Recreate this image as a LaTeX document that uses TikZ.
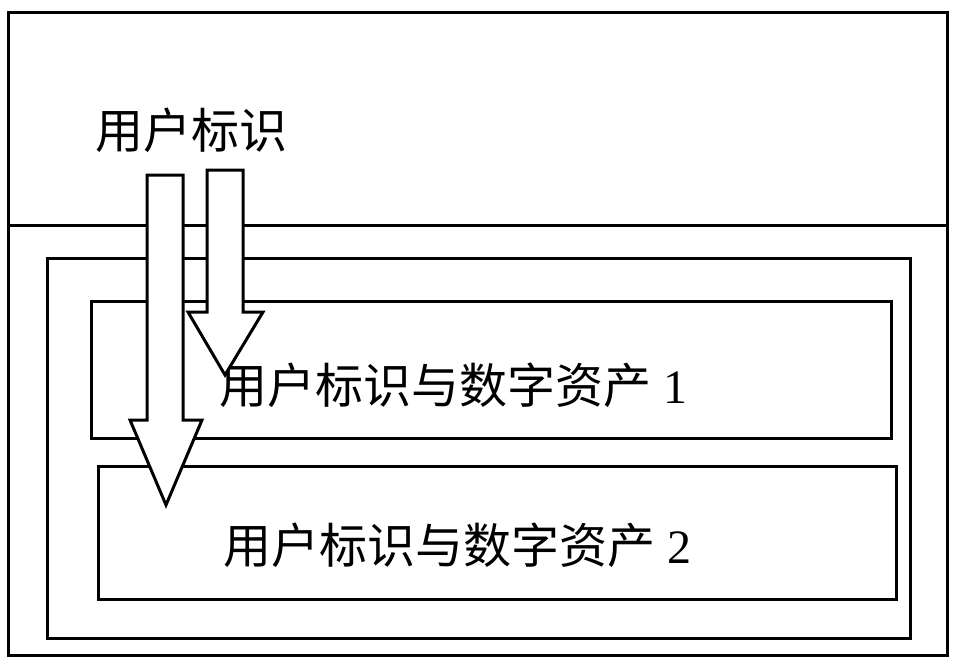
\documentclass[tikz,border=0pt]{standalone}
\usepackage{fontspec}
\setmainfont{Liberation Serif}
\newfontfamily\cjk{Noto Sans CJK SC}
\begin{document}
\begin{tikzpicture}[x=1pt,y=-1pt,line width=3pt,
  lbl/.style={inner sep=0,anchor=west,font=\fontsize{48}{52}\selectfont},
  arr/.style={draw,fill=white,line width=3pt,line join=miter}]
\useasboundingbox (0,0) rectangle (953,670);
\draw (8,12) rectangle (947,655);
\coordinate (l) at (8,225); \coordinate (r) at (947,225);
\draw (l) -- (r);
\draw (47,258) rectangle (910,638);
\node[draw,minimum width=800,minimum height=137,anchor=north west] (b1) at (90,300) {};
\node[draw,minimum width=798,minimum height=133,anchor=north west] (b2) at (97,465) {};
\node[lbl] (t0) at (94,130) {\cjk 用户标识};
\node[lbl] (t1) at (218,385) {\cjk 用户标识与数字资产\hspace{12pt}\rmfamily 1};
\node[lbl] (t2) at (222,545) {\cjk 用户标识与数字资产\hspace{12pt}\rmfamily 2};
\draw[arr] (207,170) -- (243,170) -- (243,312) -- (263,312) -- (225,375) -- (188,312) -- (207,312) -- cycle;
\draw[arr] (147,175) -- (183,175) -- (183,420) -- (202,420) -- (166,505) -- (130,420) -- (147,420) -- cycle;
\end{tikzpicture}
\end{document}
